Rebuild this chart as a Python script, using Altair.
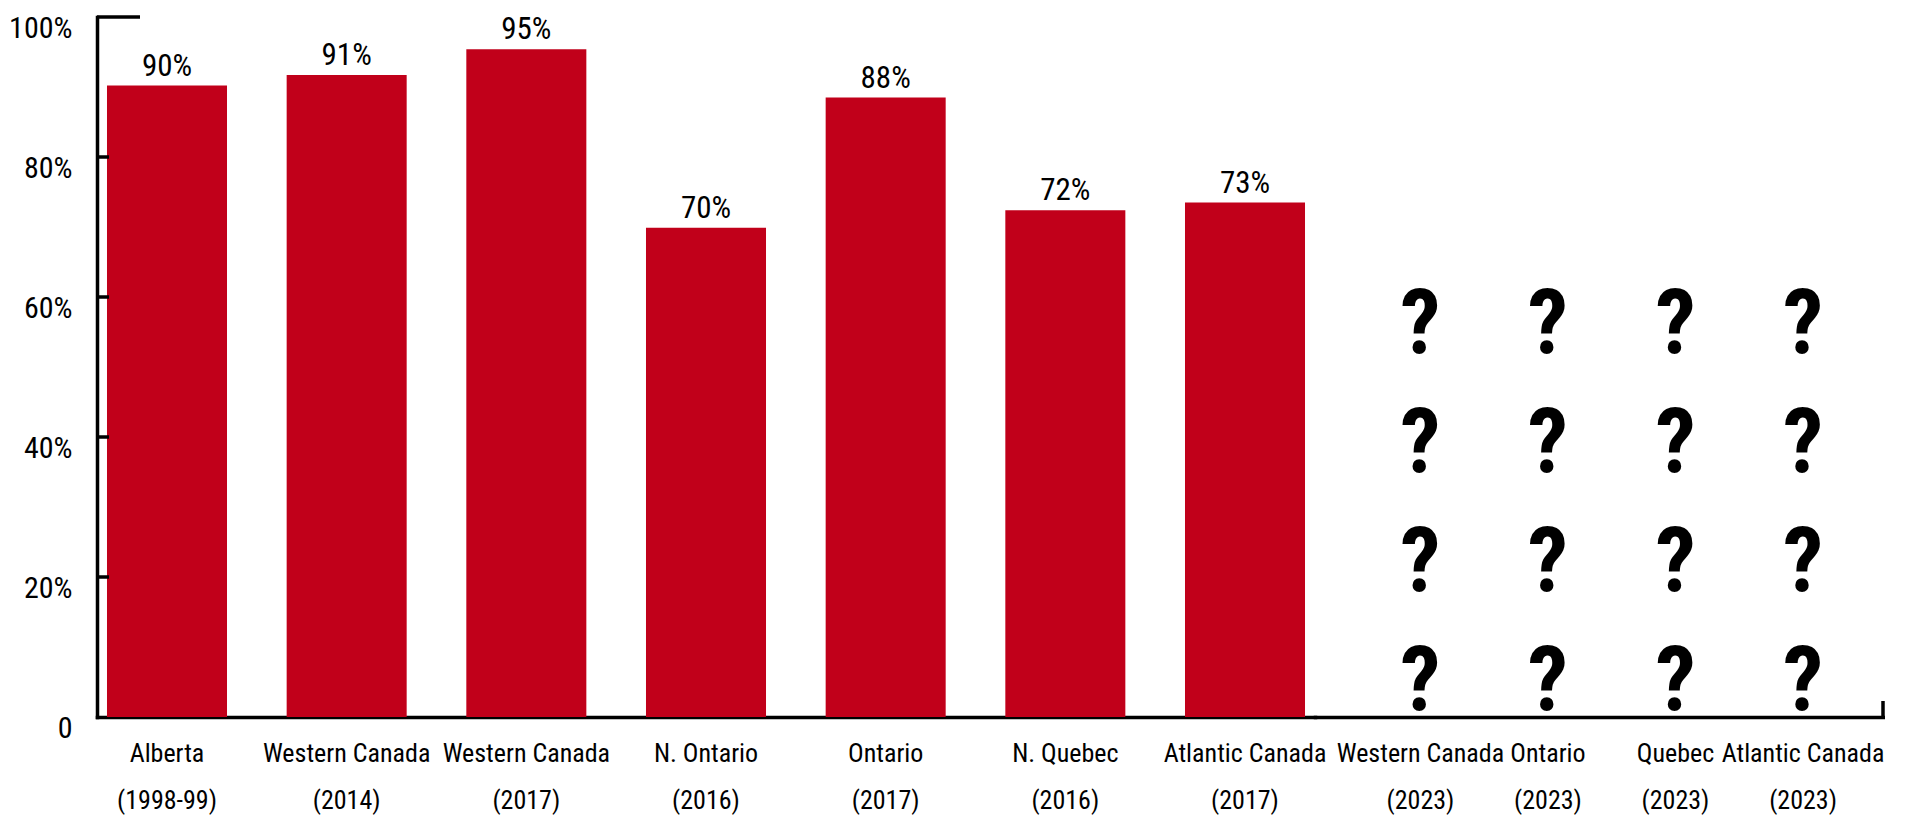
import altair as alt
import pandas as pd

# ---- data ----
regions = ["Alberta", "Western Canada", "Western Canada", "N. Ontario",
           "Ontario", "N. Quebec", "Atlantic Canada"]
periods = ["1998-99", "2014", "2017", "2016", "2017", "2016", "2017"]
bar_values = [90.2, 91.7, 95.4, 69.9, 88.5, 72.4, 73.5]
reported = [90, 91, 95, 70, 88, 72, 73]

future_regions = ["Western Canada", "Ontario", "Quebec", "Atlantic Canada"]
future_periods = ["2023", "2023", "2023", "2023"]
unknown_marks = ["?", "?", "?", "?"]   # stacked symbols in each pending column

y_ticks = [0, 20, 40, 60, 80, 100]

RED = "#C1001A"
FONT = ("Roboto Condensed, Noto Sans Condensed, Open Sans Condensed, "
        "Liberation Sans Narrow, Arial Narrow, DejaVu Sans Condensed, sans-serif")

H = 700
W1 = 1218
W2 = 568
LW = 3.5
Q_LINE = 119

cats1 = [f"{r}\n({p})" for r, p in zip(regions, periods)]
cats2 = [f"{r}\n({p})" for r, p in zip(future_regions, future_periods)]

df1 = pd.DataFrame({"cat": cats1, "value": bar_values,
                    "label": [f"{v}%" for v in reported]})
ticks_df = pd.DataFrame({"value": [t for t in y_ticks if 0 < t < max(y_ticks)]})
top_df = pd.DataFrame({"value": [max(y_ticks)]})

yscale = alt.Scale(domain=[0, 100], nice=False)
yaxis = alt.Axis(values=y_ticks, ticks=False, tickSize=0, grid=False,
                 domain=True, domainColor="black", domainWidth=LW, domainCap="square",
                 labelBaseline="top", labelAlign="right", labelPadding=25,
                 labelOffset=-4, labelFontSize=30, labelColor="black",
                 labelExpr="datum.value == 0 ? '0' : datum.value + '%'",
                 title=None)

def xaxis():
    return alt.Axis(title=None, ticks=False, tickSize=0, labelAngle=0,
                    domainColor="black", domainWidth=LW, domainCap="square",
                    labelExpr="split(datum.label, '\\n')", labelLineHeight=47,
                    labelPadding=23, labelFontSize=26, labelColor="black",
                    labelLimit=0, labelOverlap=False)

x1 = alt.X("cat:N", sort=cats1, axis=xaxis(),
           scale=alt.Scale(type="band", domain=cats1, paddingInner=0.332,
                           paddingOuter=0.0556))
y1 = alt.Y("value:Q", scale=yscale, axis=yaxis)

bars = alt.Chart(df1).mark_bar(color=RED).encode(x=x1, y=y1)
bar_labels = alt.Chart(df1).mark_text(baseline="alphabetic", dy=-10, fontSize=31,
                                      color="black").encode(x=x1, y=y1, text="label:N")
inner_ticks = alt.Chart(ticks_df).mark_rule(color="black", strokeWidth=LW).encode(
    x=alt.value(0), x2=alt.value(12), y=y1)
top_cap = alt.Chart(top_df).mark_rule(color="black", strokeWidth=LW).encode(
    x=alt.value(0), x2=alt.value(43), y=y1)

left = alt.layer(bars, bar_labels, inner_ticks, top_cap).properties(width=W1, height=H)

x2 = alt.X("cat:N", sort=cats2, axis=xaxis(),
           scale=alt.Scale(type="band", domain=cats2, paddingInner=0,
                           paddingOuter=0.227, align=0.72))
y2 = alt.YDatum(0, scale=alt.Scale(domain=[0, 100], nice=False), axis=None)

q_layers = []
for k, sym in enumerate(unknown_marks):
    dfk = pd.DataFrame({"cat": cats2, "sym": [sym] * len(cats2)})
    q_layers.append(
        alt.Chart(dfk).mark_text(fontSize=90, fontWeight="bold", baseline="alphabetic",
                                 dy=-7 - k * Q_LINE, color="black")
        .encode(x=x2, y=y2, text="sym:N")
    )

end_cap = alt.Chart(top_df).mark_rule(color="black", strokeWidth=LW).encode(
    x=alt.value(W2), y=alt.value(H), y2=alt.value(H - 16))

right = alt.layer(*q_layers, end_cap).properties(width=W2, height=H)

chart = alt.hconcat(left, right, spacing=0, bounds="flush").properties(
    padding={"left": 0, "top": 5, "right": 0, "bottom": 4}
).configure(font=FONT).configure_view(stroke=None)

chart.save("out.html", embed_options={"renderer": "svg", "actions": False})
